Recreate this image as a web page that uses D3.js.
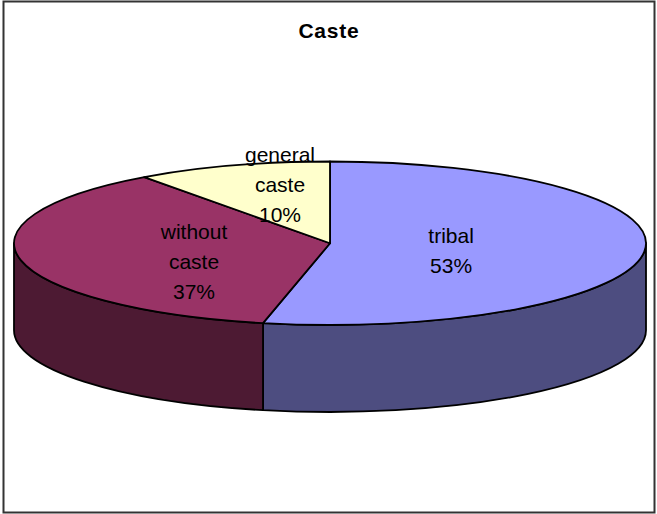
<!DOCTYPE html>
<html>
<head>
<meta charset="utf-8">
<script src="https://cdn.jsdelivr.net/npm/d3@7"></script>
<style>
    html, body {margin: 0; padding: 0; background: #fff;}
    svg {display: block;}
    text {font-family: "Liberation Sans", Arial, sans-serif; fill: #000;}
</style>
</head>
<body>
<div id="chart"></div>
<script>
// values, percentages as printed come from rounding
const categories = ["tribal", "without caste", "general caste"];
const shares = [53.4, 36.6, 10];
const labelLines = [["tribal"], ["without", "caste"], ["general", "caste"]];
const topColors = ["#9999ff", "#993366", "#ffffcc"];
const sideColors = ["#4d4d80", "#4d1a33", "#808066"];

const width = 657, height = 514;
const depth = 87;
const lineHeight = 30;

// ellipse of the pie top, unit circle -> pixels
let xScale = d3.scaleLinear().domain([-1, 1]).range([14, 646]);
let yScale = d3.scaleLinear().domain([-1, 1]).range([161.5, 325]);
let rx = (xScale(1) - xScale(-1)) / 2;
let ry = (yScale(1) - yScale(-1)) / 2;

let px = a => xScale(Math.sin(a));
let py = a => yScale(-Math.cos(a));

let pie = d3.pie().sort(null).value(d => d);
let slices = pie(shares);

let svg = d3.select("#chart").append("svg")
    .attr("width", width)
    .attr("height", height);

svg.append("rect")
    .attr("x", 3.5).attr("y", 1.5)
    .attr("width", 651).attr("height", 511)
    .attr("fill", "#fff")
    .attr("stroke", "#333")
    .attr("stroke-width", 2);

svg.append("text")
    .attr("x", 329).attr("y", 38)
    .attr("text-anchor", "middle")
    .attr("font-size", 21)
    .attr("font-weight", "bold")
    .attr("letter-spacing", 0.8)
    .text("Caste");

function topPath(d) {
    let large = d.endAngle - d.startAngle > Math.PI ? 1 : 0;
    return `M${xScale(0)},${yScale(0)}L${px(d.startAngle)},${py(d.startAngle)}` +
        `A${rx},${ry} 0 ${large} 1 ${px(d.endAngle)},${py(d.endAngle)}Z`;
}

// only the front half of the rim (90deg to 270deg) can be seen
function sidePath(d) {
    let a0 = Math.max(d.startAngle, Math.PI / 2);
    let a1 = Math.min(d.endAngle, Math.PI * 1.5);
    if (a1 <= a0) return null;
    return `M${px(a0)},${py(a0)}A${rx},${ry} 0 0 1 ${px(a1)},${py(a1)}` +
        `L${px(a1)},${py(a1) + depth}A${rx},${ry} 0 0 0 ${px(a0)},${py(a0) + depth}Z`;
}

let outline = sel => sel
    .attr("stroke", "#000")
    .attr("stroke-width", 1.8)
    .attr("stroke-linejoin", "round");

svg.append("g").attr("class", "sides")
    .selectAll("path")
    .data(slices.filter(sidePath))
    .enter().append("path")
    .attr("d", sidePath)
    .attr("fill", d => sideColors[d.index])
    .call(outline);

svg.append("g").attr("class", "tops")
    .selectAll("path")
    .data(slices)
    .enter().append("path")
    .attr("d", topPath)
    .attr("fill", d => topColors[d.index])
    .call(outline);

// labels sit on the mid angle, nudged by hand like the original
let labelRadius = 0.43;
let labelNudge = [[-14, 4], [-3, 12], [-8, -25]];

let labels = svg.append("g").attr("class", "labels")
    .selectAll("text")
    .data(slices)
    .enter().append("text")
    .attr("text-anchor", "middle")
    .attr("font-size", 21)
    .attr("transform", d => {
        let mid = (d.startAngle + d.endAngle) / 2;
        let x = xScale(Math.sin(mid) * labelRadius) + labelNudge[d.index][0];
        let y = yScale(-Math.cos(mid) * labelRadius) + labelNudge[d.index][1];
        return `translate(${x},${y})`;
    });

labels.each(function(d) {
    let lines = labelLines[d.index].concat(Math.round(d.value) + "%");
    let top = -(lines.length - 1) * lineHeight / 2 + 7;
    d3.select(this).selectAll("tspan")
        .data(lines)
        .enter().append("tspan")
        .attr("x", 0)
        .attr("y", (s, i) => top + i * lineHeight)
        .text(s => s);
});
</script>
</body>
</html>
